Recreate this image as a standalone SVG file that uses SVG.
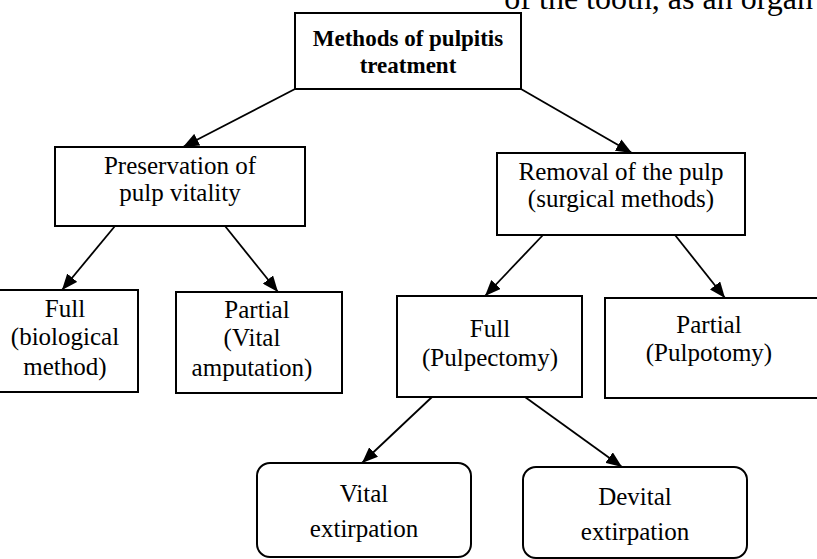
<svg xmlns="http://www.w3.org/2000/svg" width="817" height="559" viewBox="0 0 817 559">
<defs>
<style>
.box{fill:#fff;stroke:#000;stroke-width:2}
.t{font-family:"Liberation Serif","Times New Roman",serif;font-size:25px;fill:#000;text-anchor:middle}
.b{font-weight:bold;font-size:23px}
.c{stroke:#000;stroke-width:1.8;fill:none;marker-end:url(#ah)}
</style>
<marker id="ah" markerUnits="userSpaceOnUse" markerWidth="17" markerHeight="13" refX="16" refY="6.5" orient="auto">
<path d="M0,0 L16,6.5 L0,13 z" fill="#000"/>
</marker>
</defs>
<text class="t" x="813" y="9" style="text-anchor:end;font-size:32px">of the tooth, as an organ</text>
<g id="connectors">
<line class="c" x1="295" y1="89" x2="183" y2="147"/>
<line class="c" x1="521" y1="89" x2="632" y2="153"/>
<line class="c" x1="115" y1="226" x2="62" y2="290"/>
<line class="c" x1="225" y1="226" x2="278" y2="292"/>
<line class="c" x1="543" y1="235" x2="485" y2="296"/>
<line class="c" x1="675" y1="235" x2="725" y2="298"/>
<line class="c" x1="432" y1="397" x2="362" y2="463"/>
<line class="c" x1="525" y1="397" x2="622" y2="467"/>
</g>
<g id="root">
<rect class="box" x="295" y="13" width="226" height="76"/>
<text class="t b" x="408" y="46">Methods of pulpitis</text>
<text class="t b" x="408" y="73">treatment</text>
</g>
<g id="preservation">
<rect class="box" x="55" y="147" width="250" height="79"/>
<text class="t" x="180" y="174">Preservation of</text>
<text class="t" x="180" y="201">pulp vitality</text>
</g>
<g id="removal">
<rect class="box" x="497" y="153" width="248" height="82"/>
<text class="t" x="621" y="180">Removal of the pulp</text>
<text class="t" x="621" y="207">(surgical methods)</text>
</g>
<g id="full-bio">
<rect class="box" x="-10" y="290" width="148" height="102"/>
<text class="t" x="65" y="317">Full</text>
<text class="t" x="65" y="345">(biological</text>
<text class="t" x="65" y="375">method)</text>
</g>
<g id="partial-vital">
<rect class="box" x="176" y="292" width="166" height="101"/>
<text class="t" x="257" y="318">Partial</text>
<text class="t" x="252" y="346">(Vital</text>
<text class="t" x="252" y="376">amputation)</text>
</g>
<g id="full-pulpectomy">
<rect class="box" x="397" y="296" width="185" height="101"/>
<text class="t" x="490" y="337">Full</text>
<text class="t" x="490" y="366">(Pulpectomy)</text>
</g>
<g id="partial-pulpotomy">
<rect class="box" x="605" y="298" width="220" height="100"/>
<text class="t" x="709" y="333">Partial</text>
<text class="t" x="709" y="361">(Pulpotomy)</text>
</g>
<g id="vital-extirpation">
<rect class="box" x="257" y="463" width="214" height="94" rx="13"/>
<text class="t" x="364" y="502">Vital</text>
<text class="t" x="364" y="537">extirpation</text>
</g>
<g id="devital-extirpation">
<rect class="box" x="523" y="467" width="224" height="91" rx="13"/>
<text class="t" x="635" y="505">Devital</text>
<text class="t" x="635" y="540">extirpation</text>
</g>
</svg>
